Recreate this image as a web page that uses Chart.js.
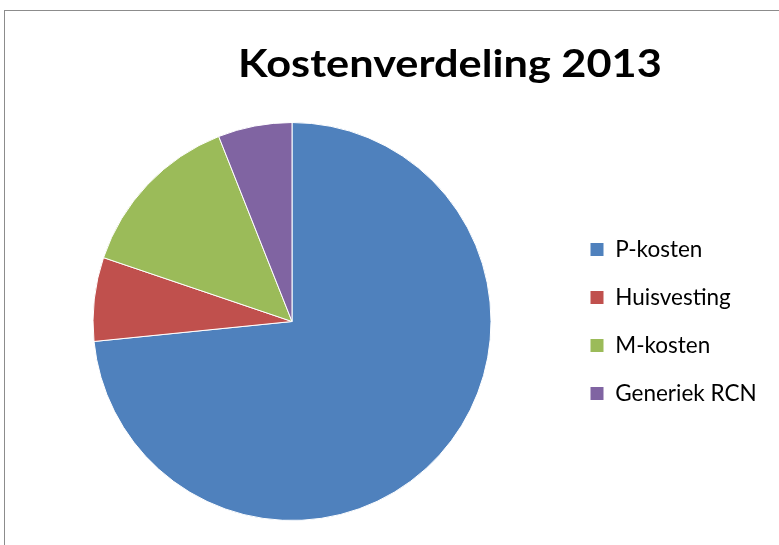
<!DOCTYPE html>
<html>
<head>
<meta charset="utf-8">
<script src="https://cdn.jsdelivr.net/npm/chart.js@4"></script>
<style>
  html, body { margin: 0; padding: 0; width: 779px; height: 545px; overflow: hidden; background: #fff; }
  #frame { position: absolute; left: 4px; top: 10px; width: 820px; height: 600px; border: 1px solid #8c8c8c; box-sizing: border-box; }
  #title { position: absolute; left: 0; width: 900px; top: 40px; text-align: center; font-family: Lato, sans-serif; font-weight: bold; font-size: 38px; line-height: 44px; color: #000; white-space: nowrap; transform: scaleX(1.14); transform-origin: 450px 50%; }
  #wrap { position: absolute; left: 0; top: 0; width: 779px; height: 545px; }
</style>
</head>
<body>
<div id="frame"></div>
<div id="wrap"><canvas id="c" width="779" height="545"></canvas></div>
<div id="title">Kostenverdeling 2013</div>
<script>
const titleText = "Kostenverdeling 2013";
const categories = ["P-kosten", "Huisvesting", "M-kosten", "Generiek RCN"];
const values = [73.4, 6.8, 13.8, 6.0];
const colors = ["#4F81BD", "#C0504D", "#9BBB59", "#8064A2"];

document.getElementById('title').textContent = titleText;

const legendFontSize = 22.5;
const legendFont = { family: "Lato, sans-serif", size: legendFontSize };
const labelPad = 25.5;
const boxW = 14;
const legendLeft = 564.5;

// compute legend width so that it starts at legendLeft
const mctx = document.createElement('canvas').getContext('2d');
mctx.font = legendFontSize + "px Lato, sans-serif";
let maxW = 0;
categories.forEach(c => { maxW = Math.max(maxW, mctx.measureText(c).width); });
const legendW = labelPad + boxW + legendFontSize / 2 + maxW + 10;
const padRight = Math.max(0, 779 - legendLeft - legendW);

new Chart(document.getElementById('c'), {
  type: 'pie',
  data: {
    labels: categories,
    datasets: [{
      data: values,
      backgroundColor: colors,
      borderColor: '#ffffff',
      borderWidth: 1
    }]
  },
  options: {
    responsive: false,
    animation: false,
    layout: { padding: { top: 122, bottom: 24, left: 19.5, right: padRight } },
    plugins: {
      title: { display: false },
      tooltip: { enabled: false },
      legend: {
        position: 'right',
        align: 'center',
        labels: {
          boxWidth: boxW,
          boxHeight: boxW,
          padding: labelPad,
          color: '#000',
          font: legendFont
        }
      }
    }
  }
});
</script>
</body>
</html>
